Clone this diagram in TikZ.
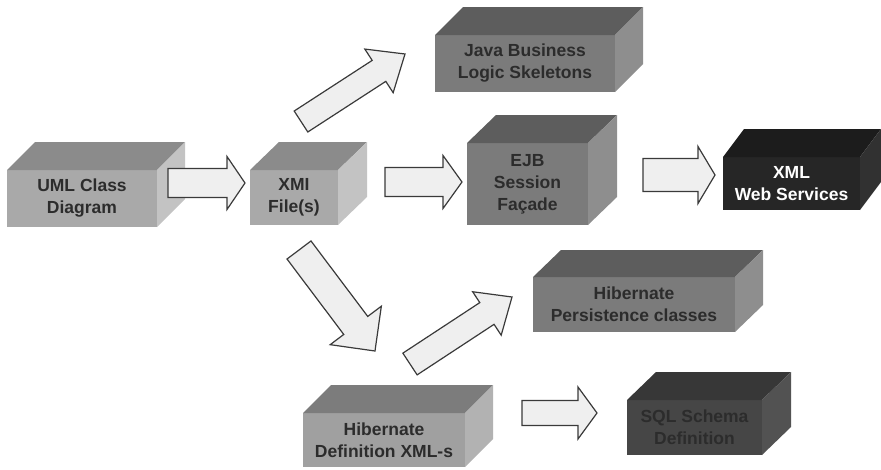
\documentclass[tikz,border=0pt]{standalone}
\usepackage{fontspec}
\setmainfont{Liberation Sans}
\usetikzlibrary{calc}
\definecolor{lfront}{HTML}{A9A9A9}
\definecolor{ltop}{HTML}{8B8B8B}
\definecolor{lside}{HTML}{C3C3C3}
\definecolor{dfront}{HTML}{A0A0A0}
\definecolor{dtop}{HTML}{7C7C7C}
\definecolor{dside}{HTML}{B2B2B2}
\definecolor{mfront}{HTML}{7B7B7B}
\definecolor{mtop}{HTML}{5D5D5D}
\definecolor{mside}{HTML}{8E8E8E}
\definecolor{kfront}{HTML}{262626}
\definecolor{ktop}{HTML}{1C1C1C}
\definecolor{kside}{HTML}{313131}
\definecolor{sfront}{HTML}{464646}
\definecolor{stop}{HTML}{373737}
\definecolor{sside}{HTML}{525252}
\definecolor{txtdark}{HTML}{2C2C2C}
\definecolor{arrfill}{HTML}{EFEFEF}
\definecolor{arrline}{HTML}{3A3A3A}
\tikzset{
  cubebox/.style={inner sep=0pt, outer sep=0pt, align=center, text=txtdark,
    font=\fontsize{17.5}{22}\selectfont\bfseries},
  barrow/.style={draw=arrline, fill=arrfill, line width=1.2pt, line join=miter}
}
\newcommand\cubefaces[5]{% name, dx, dy, top, side
  \fill[#4] (#1.north west) -- ++(#2,-#3) -- ($(#1.north east)+(#2,-#3)$) -- (#1.north east) -- cycle;
  \fill[#5] (#1.north east) -- ++(#2,-#3) -- ($(#1.south east)+(#2,-#3)$) -- (#1.south east) -- cycle;}
\newcommand\blockarrow[5]{% tail, tip, shaft half, head half, head length
  \coordinate (hb) at ($(#2)!#5!(#1)$);
  \draw[barrow] ($(#1)!#3!90:(#2)$) -- ($(hb)!#3!90:(#2)$) -- ($(hb)!#4!90:(#2)$) -- (#2)
    -- ($(hb)!#4!-90:(#2)$) -- ($(hb)!#3!-90:(#2)$) -- ($(#1)!#3!-90:(#2)$) -- cycle;}
\begin{document}
\begin{tikzpicture}[x=1pt,y=-1pt]
\useasboundingbox (0,0) rectangle (881,469);
% boxes
\node[cubebox, fill=lfront, minimum width=150pt, minimum height=57pt] (uml) at (82,198.5) {UML Class\\Diagram};
\cubefaces{uml}{28}{28}{ltop}{lside}
\node[cubebox, fill=lfront, minimum width=88pt, minimum height=55pt] (xmi) at (294,197.5) {XMI\\File(s)};
\cubefaces{xmi}{29}{28}{ltop}{lside}
\node[cubebox, fill=mfront, minimum width=180pt, minimum height=57pt] (java) at (525,63.5) {Java Business\\Logic Skeletons};
\cubefaces{java}{28}{28}{mtop}{mside}
\node[cubebox, fill=mfront, minimum width=121pt, minimum height=82pt] (ejb) at (527.5,184) {EJB\\Session\\Façade};
\cubefaces{ejb}{29}{28}{mtop}{mside}
\node[cubebox, fill=kfront, text=white, minimum width=137pt, minimum height=53pt] (xml) at (791.5,183.5) {XML\\Web Services};
\cubefaces{xml}{21}{28}{ktop}{kside}
\node[cubebox, fill=mfront, minimum width=202pt, minimum height=55pt] (hibpers) at (634,304.5) {Hibernate\\Persistence classes};
\cubefaces{hibpers}{28}{27}{mtop}{mside}
\node[cubebox, fill=dfront, minimum width=162pt, minimum height=54pt] (hibdef) at (384,440) {Hibernate\\Definition XML-s};
\cubefaces{hibdef}{28}{28}{dtop}{dside}
\node[cubebox, fill=sfront, text=txtdark, minimum width=135pt, minimum height=55pt] (sql) at (694.5,427.5) {SQL Schema\\Definition};
\cubefaces{sql}{29}{28}{stop}{sside}
% arrow end points
\coordinate (a1s) at ($(uml.east)+(11,-15.5)$);
\coordinate (a1e) at ($(xmi.west)+(-5,-14.5)$);
\coordinate (a2s) at ($(xmi.north)+(7,-48.5)$);
\coordinate (a2e) at ($(java.west)+(-30,-9.5)$);
\coordinate (a3s) at ($(xmi.east)+(47,-15.5)$);
\coordinate (a3e) at ($(ejb.west)+(-5,-2)$);
\coordinate (a4s) at ($(ejb.east)+(55,-9)$);
\coordinate (a4e) at ($(xml.west)+(-8,-8.5)$);
\coordinate (a5s) at ($(xmi.south)+(5,25)$);
\coordinate (a5e) at ($(hibdef.north)+(-9,-62)$);
\coordinate (a6s) at ($(hibdef.north)+(26,-49)$);
\coordinate (a6e) at ($(hibpers.west)+(-21,-7.5)$);
\coordinate (a7s) at ($(hibdef.east)+(57,-27)$);
\coordinate (a7e) at ($(sql.west)+(-30,-14.5)$);
% arrows
\blockarrow{a1s}{a1e}{14.5pt}{26.5pt}{18pt}
\blockarrow{a2s}{a2e}{12.5pt}{26pt}{31pt}
\blockarrow{a3s}{a3e}{14.5pt}{26.5pt}{19pt}
\blockarrow{a4s}{a4e}{16.5pt}{28.5pt}{17pt}
\blockarrow{a5s}{a5e}{15pt}{32pt}{32pt}
\blockarrow{a6s}{a6e}{13pt}{26pt}{30pt}
\blockarrow{a7s}{a7e}{12.5pt}{26pt}{19pt}
\end{tikzpicture}
\end{document}
